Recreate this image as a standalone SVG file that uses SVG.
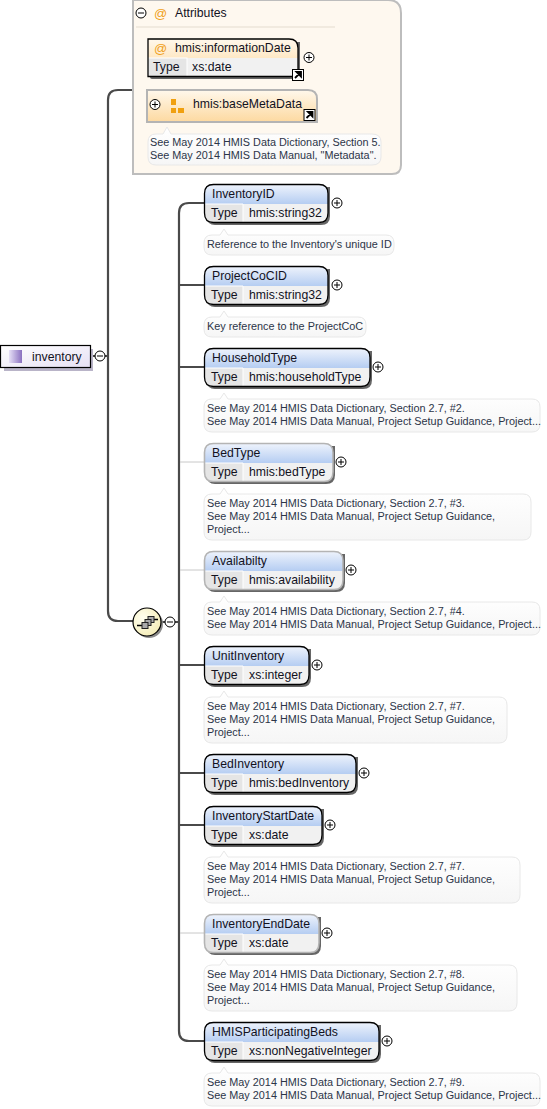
<svg xmlns="http://www.w3.org/2000/svg" width="547" height="1109" viewBox="0 0 547 1109">
<style>
text{font-family:"Liberation Sans",Arial,sans-serif;font-size:12.25px;fill:#12121e}
.n{font-size:10.85px;fill:#2c3548}
.hd{fill:url(#blue)}
.bx{fill:#f1f1f1}
.tp{fill:#e5e5e5;stroke:#fff;stroke-width:1}
.req{fill:none;stroke:#000;stroke-width:1.3}
.opt{fill:none;stroke:#b4b4b4;stroke-width:1.6}
.sh{fill:#666;filter:url(#soft)}
.note{fill:url(#nt);stroke:#e8e8e8;stroke-width:1}
.c{fill:none;stroke:#4a4a4a;stroke-width:2.2}
.l{fill:none;stroke:#c8c8c8;stroke-width:1}
.ic{fill:#fff;stroke:#000;stroke-width:1}
.at{fill:#f0a020;font-size:13px}
</style>
<defs>
<filter id="soft" x="-5%" y="-10%" width="110%" height="120%"><feGaussianBlur stdDeviation="0.7"/></filter>
<linearGradient id="nt" x1="0" y1="0" x2="0" y2="1"><stop offset="0" stop-color="#fff"/><stop offset="1" stop-color="#f6f6f6"/></linearGradient>
<linearGradient id="blue" x1="0" y1="0" x2="0" y2="1"><stop offset="0" stop-color="#eef3fc"/><stop offset="1" stop-color="#b5cdf2"/></linearGradient>
<linearGradient id="or" x1="0" y1="0" x2="0" y2="1"><stop offset="0" stop-color="#fff8ec"/><stop offset="1" stop-color="#fdd9a0"/></linearGradient>
<linearGradient id="pu" x1="0" y1="0" x2="1" y2="1"><stop offset="0" stop-color="#fff"/><stop offset="1" stop-color="#e6e0f4"/></linearGradient>
<linearGradient id="pi" x1="0" y1="0" x2="1" y2="0"><stop offset="0" stop-color="#e6e0f6"/><stop offset="1" stop-color="#8a70c0"/></linearGradient>
<radialGradient id="ye" cx=".35" cy=".35" r=".8"><stop offset="0" stop-color="#fffff0"/><stop offset="1" stop-color="#f3eab0"/></radialGradient>
<g id="plus"><circle r="5" class="ic"/><path d="M-3 0H3M0 -3V3" stroke="#000" stroke-width="1"/></g>
<g id="minus"><circle r="5" class="ic"/><path d="M-3 0H3" stroke="#000" stroke-width="1"/></g>
<g id="jump"><rect x="-5.500" y="-5.500" width="11" height="11" fill="#fff" stroke="#000"/><path d="M-3 3L2 -2M-1.500 -3H3V1.500Z" stroke="#000" stroke-width="1.800" fill="#000"/></g>
</defs>
<g id="connectors">
<path class="c" d="M92 356H108M133 90H118Q108 90 108 100V611Q108 621 118 621H133"/>
<path class="c" d="M160 622H179M204 203H189Q179 203 179 213V1031Q179 1041 189 1041H204"/>
<path class="c" d="M179 285H204M179 367H204M179 665H204M179 773H204M179 825H204"/>
<path class="l" d="M180 462H204M180 570H204M180 933H204"/>
</g>
<g id="inventory">
<rect x="4" y="349" width="89" height="22" fill="#b9b4c8"/>
<rect x="0.500" y="345.500" width="90" height="22" fill="url(#pu)" stroke="#000" stroke-width="1.200"/>
<rect x="9" y="350" width="13" height="13" fill="url(#pi)"/>
<text x="32" y="360.500">inventory</text>
<use href="#minus" x="100" y="356"/>
</g>
<g id="attributes">
<path d="M133 0H388Q401 0 401 13V165Q401 174 392 174H133Z" fill="#fef8ef" stroke="#bdbdbd" stroke-width="2"/>
<use href="#minus" x="141" y="13"/>
<text class="at" x="154" y="17.500">@</text>
<text x="175" y="17">Attributes</text>
<path d="M136 27H335" stroke="#ece6da" stroke-width="1.500"/>
</g>
<g id="informationDate">
<path class="sh" d="M150 42H300V79H152Q150 79 150 77Z"/>
<path d="M148 39H289Q298 39 298 48V76.500H148Z" fill="url(#or)"/>
<rect x="148" y="58" width="150" height="18.500" class="bx"/>
<rect x="148" y="58" width="39" height="18.500" class="tp"/>
<path class="req" d="M148 39H289Q298 39 298 48V76.500H148Z"/>
<text class="at" x="154" y="53">@</text>
<text x="175" y="52">hmis:informationDate</text>
<text x="153" y="71">Type</text>
<text x="192" y="71">xs:date</text>
<use href="#plus" x="309" y="57.500"/>
<use href="#jump" x="298" y="75"/>
</g>
<g id="baseMetaData">
<path d="M147 90H308Q317 90 317 99V122H147Z" fill="url(#or)" stroke="#b4b4b4" stroke-width="2"/>
<use href="#plus" x="155" y="104.500"/>
<path d="M171 99h5v6h-5zM171 108h5v5h-5zM178 108h6v5h-6z" fill="#f0a010"/>
<text x="193" y="108">hmis:baseMetaData</text>
<use href="#jump" x="309.500" y="115"/>
</g>
<g id="attrNote">
<path class="note" d="M156 134H163L167 127L171 134H372Q381 134 381 142V157Q381 165 372 165H156Q148 165 148 157V142Q148 134 156 134Z"/>
<text class="n" x="150" y="146">See May 2014 HMIS Data Dictionary, Section 5.</text>
<text class="n" x="150" y="159">See May 2014 HMIS Data Manual, "Metadata".</text>
</g>
<g id="compositor">
<circle cx="149" cy="624" r="14" fill="#8c8c8c"/>
<circle cx="147" cy="622" r="14" fill="url(#ye)" stroke="#000" stroke-width="1.200"/>
<path d="M137 625.500H142M154 619.500H158" stroke="#000" stroke-width="1.500"/>
<rect x="148" y="616.500" width="6" height="6" fill="#aaa" stroke="#222"/>
<rect x="145" y="619.500" width="6" height="6" fill="#aaa" stroke="#222"/>
<rect x="142" y="622.500" width="6" height="6" fill="#aaa" stroke="#222"/>
<use href="#minus" x="170" y="622"/>
</g>
<g id="InventoryID">
<path class="sh" d="M207 187H330V216Q330 225 321 225H215Q207 225 207 217Z"/>
<path class="hd" d="M204.500 184.500H319Q328 184.500 328 193.500V204H204.500V193.500Q204.500 184.500 213.500 184.500Z"/>
<path class="bx" d="M204.500 204H328V213Q328 222.500 319 222.500H213.500Q204.500 222.500 204.500 213Z"/>
<path class="tp" d="M204.500 204H243V222.500H213.500Q204.500 222.500 204.500 213Z"/>
<path class="req" d="M213.500 184.500H319Q328 184.500 328 193.500V213Q328 222.500 319 222.500H213.500Q204.500 222.500 204.500 213V193.500Q204.500 184.500 213.500 184.500Z"/>
<text x="212" y="198">InventoryID</text><text x="211" y="217">Type</text><text x="249" y="217">hmis:string32</text>
<use href="#plus" x="337" y="203"/>
</g>
<g id="noteInventoryID">
<path class="note" d="M212 235H220L224 229L228 235H386Q394 235 394 243V247Q394 255 386 255H212Q204 255 204 247V243Q204 235 212 235Z"/>
<text class="n" x="207" y="248">Reference to the Inventory's unique ID</text>
</g>
<g id="ProjectCoCID">
<path class="sh" d="M207 269H330V298Q330 307 321 307H215Q207 307 207 299Z"/>
<path class="hd" d="M204.500 266.500H319Q328 266.500 328 275.500V286H204.500V275.500Q204.500 266.500 213.500 266.500Z"/>
<path class="bx" d="M204.500 286H328V295Q328 304.500 319 304.500H213.500Q204.500 304.500 204.500 295Z"/>
<path class="tp" d="M204.500 286H243V304.500H213.500Q204.500 304.500 204.500 295Z"/>
<path class="req" d="M213.500 266.500H319Q328 266.500 328 275.500V295Q328 304.500 319 304.500H213.500Q204.500 304.500 204.500 295V275.500Q204.500 266.500 213.500 266.500Z"/>
<text x="212" y="280">ProjectCoCID</text><text x="211" y="299">Type</text><text x="249" y="299">hmis:string32</text>
<use href="#plus" x="337" y="285"/>
</g>
<g id="noteProjectCoCID">
<path class="note" d="M212 317H220L224 311L228 317H358Q366 317 366 325V329Q366 337 358 337H212Q204 337 204 329V325Q204 317 212 317Z"/>
<text class="n" x="207" y="330">Key reference to the ProjectCoC</text>
</g>
<g id="HouseholdType">
<path class="sh" d="M207 351H372V380Q372 389 363 389H215Q207 389 207 381Z"/>
<path class="hd" d="M204.500 348.500H361Q370 348.500 370 357.500V368H204.500V357.500Q204.500 348.500 213.500 348.500Z"/>
<path class="bx" d="M204.500 368H370V377Q370 386.500 361 386.500H213.500Q204.500 386.500 204.500 377Z"/>
<path class="tp" d="M204.500 368H243V386.500H213.500Q204.500 386.500 204.500 377Z"/>
<path class="req" d="M213.500 348.500H361Q370 348.500 370 357.500V377Q370 386.500 361 386.500H213.500Q204.500 386.500 204.500 377V357.500Q204.500 348.500 213.500 348.500Z"/>
<text x="212" y="362">HouseholdType</text><text x="211" y="381">Type</text><text x="249" y="381">hmis:householdType</text>
<use href="#plus" x="378" y="367"/>
</g>
<g id="noteHouseholdType">
<path class="note" d="M212 399H220L224 393L228 399H532Q540 399 540 407V424Q540 432 532 432H212Q204 432 204 424V407Q204 399 212 399Z"/>
<text class="n" x="207" y="412">See May 2014 HMIS Data Dictionary, Section 2.7, #2.</text>
<text class="n" x="207" y="425">See May 2014 HMIS Data Manual, Project Setup Guidance, Project...</text>
</g>
<g id="BedType">
<path class="sh" d="M207 446H335V475Q335 484 326 484H215Q207 484 207 476Z"/>
<path class="hd" d="M204.500 443.500H324Q333 443.500 333 452.500V463H204.500V452.500Q204.500 443.500 213.500 443.500Z"/>
<path class="bx" d="M204.500 463H333V472Q333 481.500 324 481.500H213.500Q204.500 481.500 204.500 472Z"/>
<path class="tp" d="M204.500 463H243V481.500H213.500Q204.500 481.500 204.500 472Z"/>
<path class="opt" d="M213.500 443.500H324Q333 443.500 333 452.500V472Q333 481.500 324 481.500H213.500Q204.500 481.500 204.500 472V452.500Q204.500 443.500 213.500 443.500Z"/>
<text x="212" y="457">BedType</text><text x="211" y="476">Type</text><text x="249" y="476">hmis:bedType</text>
<use href="#plus" x="341" y="462"/>
</g>
<g id="noteBedType">
<path class="note" d="M212 494H220L224 488L228 494H523Q531 494 531 502V532Q531 540 523 540H212Q204 540 204 532V502Q204 494 212 494Z"/>
<text class="n" x="207" y="507">See May 2014 HMIS Data Dictionary, Section 2.7, #3.</text>
<text class="n" x="207" y="520">See May 2014 HMIS Data Manual, Project Setup Guidance,</text>
<text class="n" x="207" y="533">Project...</text>
</g>
<g id="Availabilty">
<path class="sh" d="M207 554H345V583Q345 592 336 592H215Q207 592 207 584Z"/>
<path class="hd" d="M204.500 551.500H334Q343 551.500 343 560.500V571H204.500V560.500Q204.500 551.500 213.500 551.500Z"/>
<path class="bx" d="M204.500 571H343V580Q343 589.500 334 589.500H213.500Q204.500 589.500 204.500 580Z"/>
<path class="tp" d="M204.500 571H243V589.500H213.500Q204.500 589.500 204.500 580Z"/>
<path class="opt" d="M213.500 551.500H334Q343 551.500 343 560.500V580Q343 589.500 334 589.500H213.500Q204.500 589.500 204.500 580V560.500Q204.500 551.500 213.500 551.500Z"/>
<text x="212" y="565">Availabilty</text><text x="211" y="584">Type</text><text x="249" y="584">hmis:availability</text>
<use href="#plus" x="351" y="570"/>
</g>
<g id="noteAvailabilty">
<path class="note" d="M212 602H220L224 596L228 602H532Q540 602 540 610V627Q540 635 532 635H212Q204 635 204 627V610Q204 602 212 602Z"/>
<text class="n" x="207" y="615">See May 2014 HMIS Data Dictionary, Section 2.7, #4.</text>
<text class="n" x="207" y="628">See May 2014 HMIS Data Manual, Project Setup Guidance, Project...</text>
</g>
<g id="UnitInventory">
<path class="sh" d="M207 649H311V678Q311 687 302 687H215Q207 687 207 679Z"/>
<path class="hd" d="M204.500 646.500H300Q309 646.500 309 655.500V666H204.500V655.500Q204.500 646.500 213.500 646.500Z"/>
<path class="bx" d="M204.500 666H309V675Q309 684.500 300 684.500H213.500Q204.500 684.500 204.500 675Z"/>
<path class="tp" d="M204.500 666H243V684.500H213.500Q204.500 684.500 204.500 675Z"/>
<path class="req" d="M213.500 646.500H300Q309 646.500 309 655.500V675Q309 684.500 300 684.500H213.500Q204.500 684.500 204.500 675V655.500Q204.500 646.500 213.500 646.500Z"/>
<text x="212" y="660">UnitInventory</text><text x="211" y="679">Type</text><text x="249" y="679">xs:integer</text>
<use href="#plus" x="317" y="665"/>
</g>
<g id="noteUnitInventory">
<path class="note" d="M212 697H220L224 691L228 697H499Q507 697 507 705V735Q507 743 499 743H212Q204 743 204 735V705Q204 697 212 697Z"/>
<text class="n" x="207" y="710">See May 2014 HMIS Data Dictionary, Section 2.7, #7.</text>
<text class="n" x="207" y="723">See May 2014 HMIS Data Manual, Project Setup Guidance,</text>
<text class="n" x="207" y="736">Project...</text>
</g>
<g id="BedInventory">
<path class="sh" d="M207 757H358V786Q358 795 349 795H215Q207 795 207 787Z"/>
<path class="hd" d="M204.500 754.500H347Q356 754.500 356 763.500V774H204.500V763.500Q204.500 754.500 213.500 754.500Z"/>
<path class="bx" d="M204.500 774H356V783Q356 792.500 347 792.500H213.500Q204.500 792.500 204.500 783Z"/>
<path class="tp" d="M204.500 774H243V792.500H213.500Q204.500 792.500 204.500 783Z"/>
<path class="req" d="M213.500 754.500H347Q356 754.500 356 763.500V783Q356 792.500 347 792.500H213.500Q204.500 792.500 204.500 783V763.500Q204.500 754.500 213.500 754.500Z"/>
<text x="212" y="768">BedInventory</text><text x="211" y="787">Type</text><text x="249" y="787">hmis:bedInventory</text>
<use href="#plus" x="364" y="773"/>
</g>
<g id="InventoryStartDate">
<path class="sh" d="M207 809H324V838Q324 847 315 847H215Q207 847 207 839Z"/>
<path class="hd" d="M204.500 806.500H313Q322 806.500 322 815.500V826H204.500V815.500Q204.500 806.500 213.500 806.500Z"/>
<path class="bx" d="M204.500 826H322V835Q322 844.500 313 844.500H213.500Q204.500 844.500 204.500 835Z"/>
<path class="tp" d="M204.500 826H243V844.500H213.500Q204.500 844.500 204.500 835Z"/>
<path class="req" d="M213.500 806.500H313Q322 806.500 322 815.500V835Q322 844.500 313 844.500H213.500Q204.500 844.500 204.500 835V815.500Q204.500 806.500 213.500 806.500Z"/>
<text x="212" y="820">InventoryStartDate</text><text x="211" y="839">Type</text><text x="249" y="839">xs:date</text>
<use href="#plus" x="330" y="825"/>
</g>
<g id="noteInventoryStartDate">
<path class="note" d="M212 857H220L224 851L228 857H512Q520 857 520 865V895Q520 903 512 903H212Q204 903 204 895V865Q204 857 212 857Z"/>
<text class="n" x="207" y="870">See May 2014 HMIS Data Dictionary, Section 2.7, #7.</text>
<text class="n" x="207" y="883">See May 2014 HMIS Data Manual, Project Setup Guidance,</text>
<text class="n" x="207" y="896">Project...</text>
</g>
<g id="InventoryEndDate">
<path class="sh" d="M207 917H321V946Q321 955 312 955H215Q207 955 207 947Z"/>
<path class="hd" d="M204.500 914.500H310Q319 914.500 319 923.500V934H204.500V923.500Q204.500 914.500 213.500 914.500Z"/>
<path class="bx" d="M204.500 934H319V943Q319 952.500 310 952.500H213.500Q204.500 952.500 204.500 943Z"/>
<path class="tp" d="M204.500 934H243V952.500H213.500Q204.500 952.500 204.500 943Z"/>
<path class="opt" d="M213.500 914.500H310Q319 914.500 319 923.500V943Q319 952.500 310 952.500H213.500Q204.500 952.500 204.500 943V923.500Q204.500 914.500 213.500 914.500Z"/>
<text x="212" y="928">InventoryEndDate</text><text x="211" y="947">Type</text><text x="249" y="947">xs:date</text>
<use href="#plus" x="327" y="933"/>
</g>
<g id="noteInventoryEndDate">
<path class="note" d="M212 965H220L224 959L228 965H509Q517 965 517 973V1003Q517 1011 509 1011H212Q204 1011 204 1003V973Q204 965 212 965Z"/>
<text class="n" x="207" y="978">See May 2014 HMIS Data Dictionary, Section 2.7, #8.</text>
<text class="n" x="207" y="991">See May 2014 HMIS Data Manual, Project Setup Guidance,</text>
<text class="n" x="207" y="1004">Project...</text>
</g>
<g id="HMISParticipatingBeds">
<path class="sh" d="M207 1025H381V1054Q381 1063 372 1063H215Q207 1063 207 1055Z"/>
<path class="hd" d="M204.500 1022.500H370Q379 1022.500 379 1031.500V1042H204.500V1031.500Q204.500 1022.500 213.500 1022.500Z"/>
<path class="bx" d="M204.500 1042H379V1051Q379 1060.500 370 1060.500H213.500Q204.500 1060.500 204.500 1051Z"/>
<path class="tp" d="M204.500 1042H243V1060.500H213.500Q204.500 1060.500 204.500 1051Z"/>
<path class="req" d="M213.500 1022.500H370Q379 1022.500 379 1031.500V1051Q379 1060.500 370 1060.500H213.500Q204.500 1060.500 204.500 1051V1031.500Q204.500 1022.500 213.500 1022.500Z"/>
<text x="212" y="1036">HMISParticipatingBeds</text><text x="211" y="1055">Type</text><text x="249" y="1055">xs:nonNegativeInteger</text>
<use href="#plus" x="387" y="1041"/>
</g>
<g id="noteHMISParticipatingBeds">
<path class="note" d="M212 1073H220L224 1067L228 1073H532Q540 1073 540 1081V1098Q540 1106 532 1106H212Q204 1106 204 1098V1081Q204 1073 212 1073Z"/>
<text class="n" x="207" y="1086">See May 2014 HMIS Data Dictionary, Section 2.7, #9.</text>
<text class="n" x="207" y="1099">See May 2014 HMIS Data Manual, Project Setup Guidance, Project...</text>
</g>
</svg>
